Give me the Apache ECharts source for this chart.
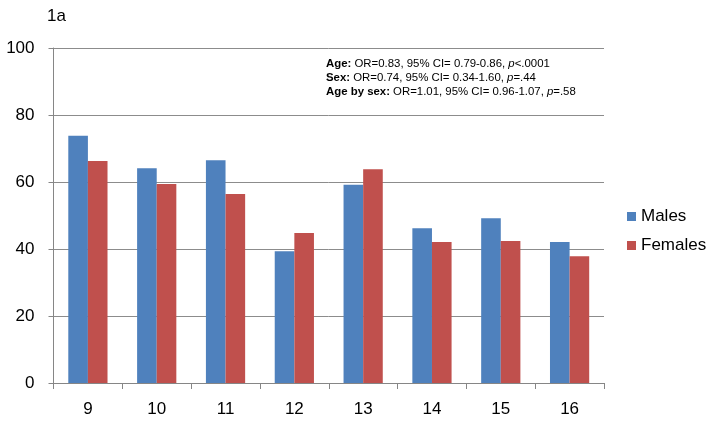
<!DOCTYPE html>
<html><head><meta charset="utf-8">
<script src="https://cdn.jsdelivr.net/npm/echarts@6/dist/echarts.min.js"></script>
<style>html,body{margin:0;padding:0;background:#fff}#c{width:714px;height:422px}</style>
</head><body><div id="c"></div>
<script>
const categories = ['9','10','11','12','13','14','15','16'];
const males = [73.8, 64.1, 66.5, 39.3, 59.2, 46.2, 49.2, 42.1];
const females = [66.3, 59.4, 56.4, 44.8, 63.8, 42.1, 42.4, 37.8];
const yTicks = {min: 0, max: 100, interval: 20};

const chart = echarts.init(document.getElementById('c'), null, {renderer: 'canvas'});
const font = 'Liberation Sans, Arial, sans-serif';
chart.setOption({
  animation: false,
  backgroundColor: '#ffffff',
  title: [
    {text: '1a', left: 42, top: 3, textStyle: {fontFamily: font, fontSize: 17, fontWeight: 'normal', color: '#000'}},
    {
      left: 321, top: 52,
      text: '{b|Age:} OR=0.83, 95% CI= 0.79-0.86, {i|p}<.0001\n{b|Sex:} OR=0.74, 95% CI= 0.34-1.60, {i|p}=.44\n{b|Age by sex:} OR=1.01, 95% CI= 0.96-1.07, {i|p}=.58',
      textStyle: {
        fontFamily: font, fontSize: 11.4, fontWeight: 'normal', color: '#000', lineHeight: 14,
        rich: {
          b: {fontFamily: font, fontSize: 11.4, fontWeight: 'bold', color: '#000', lineHeight: 14},
          i: {fontFamily: font, fontSize: 11.4, fontStyle: 'italic', color: '#000', lineHeight: 14}
        }
      }
    }
  ],
  legend: {
    orient: 'vertical', left: 622, top: 203, itemWidth: 9, itemHeight: 9, itemGap: 12, icon: 'rect',
    textStyle: {fontFamily: font, fontSize: 17, color: '#000'},
    data: ['Males', 'Females']
  },
  grid: {left: 53.5, right: 110, top: 48, bottom: 39, containLabel: false},
  xAxis: {
    type: 'category', data: categories,
    axisLine: {lineStyle: {color: '#868686'}},
    axisTick: {show: true, length: 6, lineStyle: {color: '#868686'}},
    axisLabel: {fontFamily: font, fontSize: 17, color: '#000', margin: 18}
  },
  yAxis: {
    type: 'value', min: yTicks.min, max: yTicks.max, interval: yTicks.interval,
    axisLine: {show: true, lineStyle: {color: '#868686'}},
    axisTick: {show: true, length: 5, lineStyle: {color: '#868686'}},
    splitLine: {lineStyle: {color: '#8c8c8c', width: 1}},
    axisLabel: {fontFamily: font, fontSize: 17, color: '#000', margin: 19}
  },
  series: [
    {name: 'Males', type: 'bar', data: males, barGap: '0%', barCategoryGap: '43%', itemStyle: {color: '#4F81BD'}},
    {name: 'Females', type: 'bar', data: females, barGap: '0%', barCategoryGap: '43%', itemStyle: {color: '#C0504D'}}
  ]
});
</script></body></html>
